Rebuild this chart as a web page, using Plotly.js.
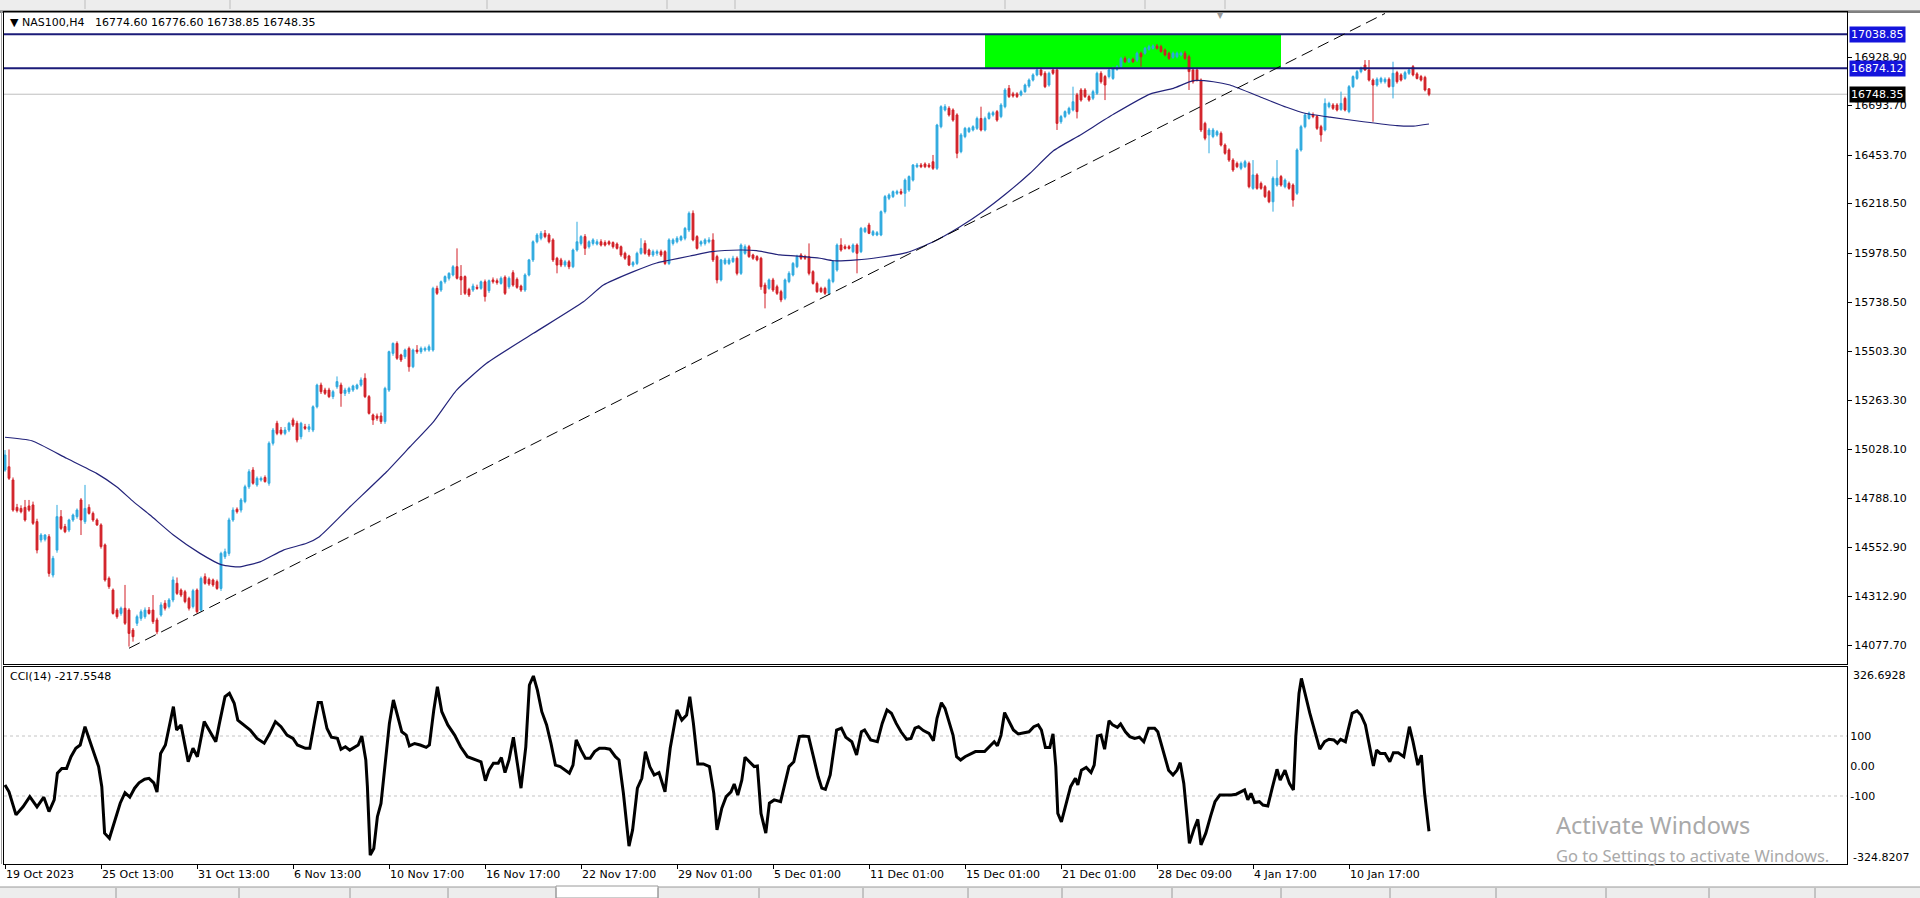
<!DOCTYPE html>
<html>
<head>
<meta charset="utf-8">
<script src="https://cdn.plot.ly/plotly-3.0.1.min.js"></script>
<style>
html,body{margin:0;padding:0;background:#fff;overflow:hidden;}
#chart{width:1920px;height:898px;}
</style>
</head>
<body>
<div id="chart"></div>
<script>
// ---------- DATA (NAS100, H4) ----------
const openP = [
14926,14942,14878,14745,14740,14745,14752,14757,14676,14587,
14590,14603,14417,14538,14700,14652,14635,14684,14700,14781,
14676,14745,14716,14684,14660,14563,14401,14344,14247,14231,
14256,14247,14150,14183,14207,14215,14247,14247,14199,14223,
14280,14264,14296,14377,14344,14336,14304,14264,14344,14247,
14409,14396,14393,14385,14352,14506,14522,14684,14736,14732,
14773,14845,14926,14854,14878,14890,14862,15056,15153,15120,
15104,15120,15169,15153,15088,15136,15124,15120,15233,15338,
15314,15314,15282,15330,15338,15298,15306,15314,15322,15338,
15371,15282,15193,15188,15188,15161,15314,15492,15540,15484,
15476,15516,15427,15508,15500,15508,15508,15508,15807,15799,
15839,15856,15872,15912,15864,15864,15802,15799,15812,15807,
15839,15796,15848,15844,15831,15861,15815,15883,15851,15818,
15799,15872,15945,16033,16050,16074,16066,16042,15953,15945,
15920,15936,15912,15993,16025,16058,16009,16025,16022,16033,
16029,16033,16029,16022,16009,15977,15964,15920,15928,15977,
16025,15993,15969,15977,15985,15985,15928,16025,16033,16042,
16050,16090,16171,16058,16022,16025,16033,16042,15961,15848,
15928,15928,15937,15953,15880,15977,16009,15969,15961,15953,
15823,15807,15848,15815,15791,15759,15840,15872,15912,15969,
15961,15961,15888,15831,15807,15807,15783,15840,15896,16017,
16009,16009,15985,16017,15985,16082,16114,16066,16066,16066,
16179,16244,16252,16268,16276,16268,16284,16332,16397,16405,
16410,16405,16421,16389,16591,16672,16680,16672,16648,16470,
16543,16567,16575,16583,16631,16575,16631,16648,16664,16640,
16688,16777,16750,16750,16745,16761,16788,16817,16842,16866,
16850,16793,16866,16866,16615,16640,16656,16672,16745,16769,
16769,16737,16729,16753,16850,16834,16834,16825,16869,16882,
16922,16906,16918,16914,16947,16947,16966,16971,16982,16979,
16963,16947,16927,16930,16939,16947,16930,16866,16866,16817,
16607,16551,16543,16551,16559,16502,16478,16429,16413,16389,
16397,16413,16292,16357,16316,16300,16276,16227,16308,16349,
16300,16316,16308,16268,16478,16591,16631,16648,16640,16591,
16575,16688,16696,16696,16675,16728,16664,16785,16825,16858,
16890,16866,16817,16793,16809,16809,16821,16785,16853,16842,
16825,16850,16882,16847,16834,16830,16774.60];

const highP = [
15023,15026,14890,14762,14755,14781,14781,14773,14690,14620,
14615,14615,14510,14757,14732,14665,14690,14715,14740,14790,
14854,14760,14725,14692,14668,14570,14410,14352,14256,14264,
14369,14256,14160,14225,14250,14260,14262,14320,14210,14285,
14295,14305,14410,14405,14352,14345,14312,14350,14352,14410,
14425,14405,14400,14395,14530,14545,14695,14745,14745,14790,
14855,14930,14940,14895,14895,14900,15065,15130,15165,15135,
15135,15160,15180,15165,15160,15150,15150,15240,15345,15350,
15325,15325,15315,15380,15350,15325,15330,15340,15345,15375,
15395,15290,15200,15200,15205,15330,15505,15545,15550,15490,
15515,15525,15515,15532,15525,15525,15535,15815,15820,15845,
15870,15885,15920,16001,15920,15870,15810,15830,15825,15845,
15850,15850,15860,15855,15865,15870,15865,15895,15860,15825,
15880,15950,16040,16075,16085,16090,16075,16050,15960,15955,
15945,15945,16000,16130,16065,16070,16040,16050,16045,16045,
16040,16040,16035,16030,16015,15985,15970,15940,15985,16050,
16040,16000,15995,15995,15995,15992,16050,16050,16060,16065,
16105,16180,16185,16065,16040,16050,16055,16074,15970,15950,
15955,15955,15965,15962,16025,16020,16018,15975,15968,15960,
15835,15855,15858,15825,15800,15855,15890,15935,15970,15978,
15970,16025,15895,15840,15815,15815,15855,15945,16025,16050,
16020,16018,16025,16025,16105,16105,16125,16090,16085,16185,
16260,16268,16282,16285,16290,16340,16355,16410,16415,16415,
16418,16415,16454,16605,16695,16700,16690,16680,16656,16560,
16590,16590,16598,16640,16688,16640,16664,16668,16672,16705,
16778,16793,16760,16758,16770,16800,16825,16850,16875,16878,
16860,16858,16875,16875,16648,16670,16688,16785,16755,16778,
16778,16745,16770,16858,16860,16842,16875,16882,16890,16930,
16932,16925,16926,16955,16955,16978,16988,16990,16992,16988,
16970,16955,16955,16955,16955,16958,16940,16875,16874,16825,
16615,16585,16585,16575,16568,16510,16486,16438,16422,16422,
16430,16422,16429,16365,16325,16308,16284,16350,16429,16357,
16340,16325,16316,16486,16600,16656,16664,16660,16648,16600,
16728,16712,16705,16705,16761,16737,16793,16840,16866,16882,
16914,16914,16825,16830,16833,16830,16830,16906,16862,16850,
16862,16875,16890,16855,16842,16838,16776.60];

const lowP = [
14918,14878,14724,14720,14716,14676,14724,14660,14522,14575,
14580,14409,14405,14525,14635,14620,14625,14675,14690,14611,
14665,14710,14675,14655,14545,14385,14350,14225,14205,14220,
14175,14070,14094,14170,14195,14205,14225,14180,14130,14215,
14245,14255,14285,14320,14310,14280,14245,14255,14230,14240,
14370,14365,14360,14345,14340,14495,14510,14675,14715,14720,
14765,14835,14855,14845,14870,14865,14850,15045,15095,15095,
15095,15110,15135,15060,15075,15120,15110,15110,15225,15295,
15290,15275,15270,15320,15233,15285,15295,15305,15315,15330,
15275,15195,15145,15165,15150,15150,15305,15480,15460,15450,
15465,15403,15420,15490,15490,15500,15500,15500,15775,15790,
15830,15845,15865,15850,15775,15775,15765,15790,15800,15800,
15743,15785,15830,15825,15825,15775,15805,15815,15805,15790,
15790,15865,15935,16025,16040,16050,16025,15935,15880,15910,
15910,15900,15905,15985,16015,15969,16000,16015,16015,16010,
16010,16015,16000,15995,15960,15945,15915,15910,15920,15970,
15970,15960,15960,15965,15960,15920,15920,16015,16025,16035,
16040,16080,16035,15995,16010,16015,16025,15935,15831,15840,
15920,15920,15930,15870,15872,15970,15955,15945,15938,15800,
15710,15800,15790,15775,15740,15750,15832,15865,15905,15945,
15945,15870,15825,15785,15785,15775,15775,15832,15888,15985,
15995,15995,15978,15880,15978,16075,16070,16060,16060,16060,
16170,16235,16245,16260,16260,16203,16275,16325,16390,16390,
16390,16390,16381,16381,16583,16665,16640,16615,16438,16462,
16535,16560,16568,16575,16568,16568,16625,16640,16615,16632,
16680,16730,16732,16730,16738,16755,16780,16810,16835,16835,
16778,16785,16842,16575,16605,16632,16648,16665,16631,16712,
16730,16712,16720,16745,16800,16720,16825,16818,16862,16875,
16900,16900,16900,16905,16882,16940,16960,16965,16965,16950,
16932,16915,16920,16922,16932,16915,16769,16800,16810,16565,
16525,16462,16535,16543,16495,16455,16420,16372,16390,16380,
16390,16292,16285,16285,16285,16245,16220,16179,16300,16300,
16292,16285,16203,16260,16470,16583,16625,16632,16575,16518,
16568,16680,16672,16665,16668,16665,16656,16778,16818,16850,
16862,16810,16615,16785,16800,16800,16780,16728,16800,16810,
16818,16842,16835,16820,16810,16762,16738.85];

const closeP = [
14999,14886,14732,14729,14724,14684,14732,14668,14538,14611,
14611,14425,14498,14700,14643,14627,14684,14708,14732,14684,
14740,14716,14684,14660,14555,14393,14361,14231,14215,14256,
14183,14134,14118,14215,14239,14247,14231,14191,14142,14272,
14256,14296,14393,14328,14320,14288,14256,14341,14239,14401,
14377,14374,14369,14352,14522,14530,14684,14732,14724,14781,
14845,14918,14862,14886,14886,14870,15056,15120,15104,15104,
15120,15153,15144,15072,15153,15128,15136,15233,15338,15306,
15298,15282,15306,15355,15298,15314,15322,15334,15338,15363,
15282,15201,15169,15177,15161,15322,15500,15540,15468,15460,
15508,15427,15508,15500,15516,15516,15524,15807,15783,15839,
15864,15880,15912,15856,15848,15783,15775,15818,15807,15839,
15767,15844,15839,15835,15856,15783,15856,15823,15812,15799,
15872,15945,16033,16066,16074,16058,16033,15945,15920,15920,
15936,15912,15993,16033,16058,16001,16033,16042,16033,16017,
16017,16022,16009,16001,15969,15953,15920,15932,15977,16001,
15977,15969,15985,15985,15969,15928,16042,16042,16050,16058,
16098,16171,16042,16001,16033,16042,16042,15945,15848,15945,
15945,15945,15953,15880,16017,16009,15961,15953,15945,15815,
15783,15848,15799,15783,15751,15848,15880,15928,15961,15953,
15953,15880,15831,15791,15791,15783,15848,15937,16017,15993,
16001,16001,16017,15977,16098,16098,16074,16082,16077,16179,
16252,16260,16276,16276,16268,16332,16349,16405,16405,16397,
16397,16397,16389,16599,16688,16688,16648,16623,16462,16551,
16583,16583,16591,16631,16575,16631,16656,16659,16623,16696,
16769,16737,16740,16737,16761,16793,16817,16842,16866,16842,
16785,16850,16850,16607,16640,16664,16680,16712,16664,16720,
16737,16720,16761,16850,16809,16793,16866,16874,16882,16922,
16906,16918,16906,16947,16930,16971,16979,16982,16971,16955,
16939,16922,16947,16947,16947,16922,16858,16809,16817,16575,
16535,16575,16575,16567,16502,16462,16429,16381,16397,16413,
16421,16300,16357,16292,16292,16252,16227,16341,16341,16308,
16332,16292,16235,16478,16591,16648,16656,16640,16583,16551,
16704,16704,16680,16672,16704,16672,16785,16834,16858,16874,
16866,16817,16793,16821,16825,16821,16785,16850,16809,16817,
16853,16866,16842,16825,16817,16769,16748.35];

// moving average
const maBar = [0,6.7,15.4,22.9,27.9,32.1,36.25,42.1,48.75,54.2,58.75,63.75,69.6,75.4,78.6,86.25,95.4,101.25,107.1,112.9,120.4,132.1,144.6,149.6,157.1,162.9,165.4,171.25,176.7,183.75,187.9,193.75,200.4,203.75,207.1,212.9,218.75,225.4,232.1,238.75,244.5,250.4,256.25,262.1,268.75,277.1,286.25,292.1,297.1,302.1,306.25,314.6,320.4,325,331.25,339.6,348,352.1,356];
const maVal = [15085,15068,14983,14910,14845,14773,14708,14611,14522,14466,14457,14481,14538,14571,14603,14748,14918,15039,15160,15314,15444,15589,15742,15823,15888,15930,15941,15964,15985,15993,15990,15969,15960,15953,15941,15945,15958,15980,16033,16106,16180,16268,16365,16474,16550,16651,16749,16777,16814,16809,16793,16729,16685,16656,16637,16615,16596,16594,16604];

// CCI(14)
const cciBar = [0,1,2.75,4.5,6.2,8,9.7,11,12.3,13.1,14.2,15.4,16.5,17.7,18.8,20,21.7,23.4,24.2,24.9,26.1,27.5,28.8,30,31.2,32.4,33.5,34.9,36,37.2,38,38.9,40.1,42.1,42.9,44,45.8,47,48.1,49.8,51.3,52.7,53.6,55,56.1,57.3,58.2,59.6,61.3,63,64.8,66.2,67.6,69,70.5,72,73.1,75.1,76.2,77.4,78.3,79.1,80.5,81.6,83.1,84,85.1,86.2,87.4,88.3,89.2,90.2,90.6,91.3,92.2,93.1,94,95.2,96.1,97.1,98.2,99.2,100.3,101.1,102.4,103.8,105.3,106.1,107.2,108.1,109.2,110.7,112.4,113.9,115.6,117,119,120.1,121,122.1,123.3,124.1,125,126,127.1,128.2,129,130.2,131.1,132.1,133.1,134.2,135.4,136.5,137.6,138.8,139.9,141.1,142,142.8,144,145.1,146.3,147.4,148.6,150,151.2,152.6,153.5,154.6,156,156.9,158.1,159.2,160.1,161.2,162.3,163.5,165,166.3,168,169.2,170.4,171.2,172.1,173.2,174.6,176.1,177.2,178,179.2,180.3,181.5,182.3,183.2,184.2,185,186.1,187.3,188.1,189,190.2,191.1,192.3,193.9,194.9,196,197.2,198.6,199.5,200.9,202.1,203.3,204.2,205.1,206.3,207.1,207.9,209.1,210.2,211.7,212.9,214.1,214.9,216.4,218.1,219.3,220.5,221.6,222.8,224,225.4,226.5,227.5,228.4,229.6,231,232.1,233,234.1,235,236.2,237,237.9,238.9,240,241.4,242.6,244.9,246.1,247.3,248.1,249,249.9,251,252.1,253.3,254.5,256,257.2,258.3,259.1,260.1,261.2,262,262.7,263.2,264.1,265.3,266.4,267.6,268.2,269.1,270.3,271.5,272.3,273.1,274,274.9,276,276.9,278.1,278.9,280.1,281.2,282.4,283.6,284.7,285.9,287.4,288.2,289.4,290.9,292,293,293.8,294.7,295.5,296.1,297.3,298.2,299,300.2,301.4,302.5,303.7,305.2,306.6,307.8,308.9,309.9,310.7,311.5,312.4,313.6,314.5,315.7,316.8,318,318.8,320,321.1,322.1,322.7,323.5,324.1,325,326.2,327.6,328.7,329.9,331,332.2,333.1,333.9,335.1,335.9,336.8,338,339,340.1,341.3,342.1,342.9,343.8,345,346.2,347.1,348.3,349.7,351.1,352,353.2,354.1,354.9,356];
const cciVal = [-63,-86,-163,-136,-102,-136,-104,-152,-113,-24,-8,-8,31,59,70,131,64,-2,-69,-224,-241,-180,-124,-89,-104,-74,-56,-44,-41,-56,-87,42,70,198,120,137,14,59,31,148,114,81,142,231,242,209,153,137,120,92,76,109,148,131,103,92,70,59,59,148,212,212,125,96,92,56,64,53,62,70,100,20,-69,-297,-275,-169,-125,20,142,220,159,114,103,67,75,70,62,70,187,264,181,137,103,64,31,23,14,-49,-14,9,9,28,-22,20,96,-2,-74,64,270,300,253,181,137,75,3,-2,-14,-24,3,87,53,26,26,48,59,59,56,31,20,-91,-267,-213,-74,-41,48,-2,-30,-22,-86,59,187,153,170,231,142,7,7,-2,-91,-213,-141,-102,-86,-60,-97,-47,29,14,-2,0,-158,-224,-124,-113,-119,-63,-2,14,98,100,98,31,-36,-74,-78,-30,48,120,126,96,81,37,114,120,87,81,142,187,176,142,114,89,92,126,131,118,109,84,159,211,192,137,103,31,20,31,40,48,48,64,81,67,103,178,148,120,107,111,114,131,137,120,62,62,107,-2,-158,-186,-124,-69,-41,-63,-14,-5,-22,3,100,103,56,151,137,129,140,114,98,92,96,81,126,126,114,59,-14,-30,-14,11,-58,-169,-258,-208,-178,-263,-224,-167,-119,-97,-97,-97,-94,-86,-80,-113,-91,-122,-119,-130,-133,-74,-11,-47,-14,-58,-80,98,242,292,242,176,109,56,81,89,87,76,89,81,126,176,184,170,137,59,0,53,42,42,14,44,44,31,131,81,3,36,-91,-217.5548];

// time axis labels (one every 24 H4 bars)
const timeTickBars = [0,24,48,72,96,120,144,168,192,216,240,264,288,312,336];
const timeTickText = ['19 Oct 2023','25 Oct 13:00','31 Oct 13:00','6 Nov 13:00','10 Nov 17:00','16 Nov 17:00','22 Nov 17:00','29 Nov 01:00','5 Dec 01:00','11 Dec 01:00','15 Dec 01:00','21 Dec 01:00','28 Dec 09:00','4 Jan 17:00','10 Jan 17:00'];

// price scale labels
const priceTicks = [16928.90,16693.70,16453.70,16218.50,15978.50,15738.50,15503.30,15263.30,15028.10,14788.10,14552.90,14312.90,14077.70];
const cciTicks = [100,0,-100];
const cciTickText = ['100','0.00','-100'];
const cciMax = 326.6928, cciMin = -324.8207;

// drawn objects
const resistanceLevels = [17038.85, 16874.12];
const bidPrice = 16748.35;
const zoneBars = [245, 319];
const zonePrices = [16874.12, 17038.85];
const trendBars = [31, 345];
const trendPrices = [14062, 17140];
const headerText = '\u25BC NAS100,H4\u00A0\u00A0 16774.60 16776.60 16738.85 16748.35';
const cciLabel = 'CCI(14) -217.5548';

// ---------- LAYOUT HELPERS ----------
const W = 1920, H = 898;
const px = v => v / W;
const py = v => 1 - v / H;
const plotL = 4, plotR = 1847, mainT = 12, mainB = 664, cciT = 667, cciB = 864;
const FONT = 'DejaVu Sans';
const bull = '#2DA9DF', bear = '#D21F26';

const idx = closeP.map((_, i) => i);
const xRange = [-0.25, 460.5];

const traces = [
  {
    type: 'candlestick', x: idx, open: openP, high: highP, low: lowP, close: closeP,
    xaxis: 'x', yaxis: 'y',
    increasing: {line: {color: bull, width: 1}, fillcolor: bull},
    decreasing: {line: {color: bear, width: 1}, fillcolor: bear},
    whiskerwidth: 0, hoverinfo: 'skip', showlegend: false
  },
  {
    type: 'scatter', mode: 'lines', x: maBar, y: maVal, xaxis: 'x', yaxis: 'y',
    line: {color: '#23237A', width: 1.2, shape: 'spline', smoothing: 0.5},
    hoverinfo: 'skip', showlegend: false
  },
  {
    type: 'scatter', mode: 'lines', x: cciBar, y: cciVal, xaxis: 'x2', yaxis: 'y2',
    line: {color: '#000000', width: 3}, hoverinfo: 'skip', showlegend: false
  }
];

const shapes = [];
// top toolbar strip
shapes.push({type:'rect', xref:'paper', yref:'paper', x0:0, x1:1, y0:py(10), y1:1, fillcolor:'#EDEDED', line:{width:0}, layer:'below'});
[85,230,487,667,735,1005,1145,1225].forEach(x => shapes.push({type:'line', xref:'paper', yref:'paper', x0:px(x), x1:px(x), y0:py(9), y1:1, line:{color:'#BDBDBD', width:1}}));
shapes.push({type:'line', xref:'paper', yref:'paper', x0:0, x1:1, y0:py(10.5), y1:py(10.5), line:{color:'#A0A0A0', width:1}});
shapes.push({type:'line', xref:'paper', yref:'paper', x0:0, x1:1, y0:py(12), y1:py(12), line:{color:'#000', width:1}});
shapes.push({type:'line', xref:'paper', yref:'paper', x0:px(1.5), x1:px(1.5), y0:py(cciB), y1:py(11), line:{color:'#A0A0A0', width:1}});
// bottom tab bar
shapes.push({type:'rect', xref:'paper', yref:'paper', x0:0, x1:1, y0:0, y1:py(887), fillcolor:'#EDEDED', line:{width:0}});
shapes.push({type:'line', xref:'paper', yref:'paper', x0:0, x1:1, y0:py(887), y1:py(887), line:{color:'#9A9A9A', width:1}});
shapes.push({type:'rect', xref:'paper', yref:'paper', x0:px(556), x1:px(658), y0:0, y1:py(886), fillcolor:'#FFFFFF', line:{color:'#9A9A9A', width:1}});
[116,239,350,448,556,658,759,863,968,1062,1172,1281,1390,1496,1606,1709,1815].forEach(x => shapes.push({type:'line', xref:'paper', yref:'paper', x0:px(x), x1:px(x), y0:0, y1:py(888), line:{color:'#9A9A9A', width:1}}));
// green zone (background object)
shapes.push({type:'rect', xref:'x', yref:'y', x0:zoneBars[0], x1:zoneBars[1], y0:zonePrices[0], y1:zonePrices[1], fillcolor:'#00FF00', line:{width:0}, layer:'below'});
// horizontal levels
resistanceLevels.forEach(v => shapes.push({type:'line', xref:'paper', yref:'y', x0:px(plotL), x1:px(plotR), y0:v, y1:v, line:{color:'#1B1B78', width:2}}));
shapes.push({type:'line', xref:'paper', yref:'y', x0:px(plotL), x1:px(plotR), y0:bidPrice, y1:bidPrice, line:{color:'#BEBEBE', width:1}, layer:'below'});
// trend line
shapes.push({type:'line', xref:'x', yref:'y', x0:trendBars[0], x1:trendBars[1], y0:trendPrices[0], y1:trendPrices[1], line:{color:'#000', width:1, dash:'12px,6px'}});
// CCI levels
[100,-100].forEach(v => shapes.push({type:'line', xref:'paper', yref:'y2', x0:px(plotL), x1:px(plotR), y0:v, y1:v, line:{color:'#C4C4C4', width:1, dash:'3px,3px'}, layer:'below'}));

const annotations = [
  {xref:'paper', yref:'paper', x:px(8), y:py(22), xanchor:'left', yanchor:'middle', text:headerText, showarrow:false, font:{family:FONT, size:11, color:'#000'}},
  {xref:'paper', yref:'paper', x:px(8), y:py(676), xanchor:'left', yanchor:'middle', text:cciLabel, showarrow:false, font:{family:FONT, size:11, color:'#000'}},
  {xref:'paper', yref:'paper', x:px(1220), y:py(15), xanchor:'center', yanchor:'middle', text:'\u25BC', showarrow:false, font:{family:FONT, size:8, color:'#9A9A9A'}},
  {xref:'paper', yref:'paper', x:px(1851), y:py(675), xanchor:'left', yanchor:'middle', text:cciMax.toFixed(4), showarrow:false, font:{family:FONT, size:11, color:'#000'}},
  {xref:'paper', yref:'paper', x:px(1851), y:py(857), xanchor:'left', yanchor:'middle', text:cciMin.toFixed(4), showarrow:false, font:{family:FONT, size:11, color:'#000'}},
  {xref:'paper', yref:'paper', x:px(1554), y:py(825), xanchor:'left', yanchor:'middle', text:'Activate Windows', showarrow:false, font:{family:'Noto Sans', size:23.5, color:'#A9A9A9'}},
  {xref:'paper', yref:'paper', x:px(1554), y:py(855), xanchor:'left', yanchor:'middle', text:'Go to Settings to activate Windows.', showarrow:false, font:{family:'Noto Sans', size:16.5, color:'#A9A9A9'}}
];
resistanceLevels.forEach(v => annotations.push({xref:'paper', yref:'y', x:px(1849), y:v, xanchor:'left', yanchor:'middle', text:v.toFixed(2), showarrow:false, bgcolor:'#1414DC', borderpad:1, font:{family:FONT, size:11, color:'#FFFFFF'}}));
annotations.push({xref:'paper', yref:'y', x:px(1849), y:bidPrice, xanchor:'left', yanchor:'middle', text:bidPrice.toFixed(2), showarrow:false, bgcolor:'#000000', borderpad:1, font:{family:FONT, size:11, color:'#FFFFFF'}});

const axisCommon = {showgrid:false, zeroline:false, showline:true, mirror:true, linecolor:'#000', linewidth:1, fixedrange:true};

const layout = {
  width: W, height: H,
  margin: {l:0, r:0, t:0, b:0},
  paper_bgcolor: '#FFFFFF', plot_bgcolor: '#FFFFFF',
  font: {family: FONT, size: 11, color: '#000'},
  showlegend: false, hovermode: false, dragmode: false,
  boxgap: 0.35, boxgroupgap: 0.3,
  xaxis: Object.assign({}, axisCommon, {domain:[px(plotL), px(plotR)], anchor:'y', range:xRange, showticklabels:false, ticks:'', rangeslider:{visible:false}}),
  yaxis: Object.assign({}, axisCommon, {domain:[py(mainB), py(mainT)], anchor:'x', side:'right', range:[13985.6, 17147.1],
    tickvals: priceTicks, ticktext: priceTicks.map(v => v.toFixed(2)), ticks:'outside', ticklen:4, tickcolor:'#000', tickfont:{family:FONT, size:11, color:'#000'}}),
  xaxis2: Object.assign({}, axisCommon, {domain:[px(plotL), px(plotR)], anchor:'y2', range:xRange,
    tickvals: timeTickBars, ticktext: timeTickText, ticks:'outside', ticklen:4, tickcolor:'#000', ticklabelposition:'outside right', tickangle:0, tickfont:{family:FONT, size:11, color:'#000'}}),
  yaxis2: Object.assign({}, axisCommon, {domain:[py(cciB), py(cciT)], anchor:'x2', side:'right', range:[-326.7, 330],
    tickvals: cciTicks, ticktext: cciTickText, ticks:'', tickfont:{family:FONT, size:11, color:'#000'}}),
  shapes: shapes,
  annotations: annotations
};

Plotly.newPlot('chart', traces, layout, {displayModeBar:false, staticPlot:true});
</script>
</body>
</html>
